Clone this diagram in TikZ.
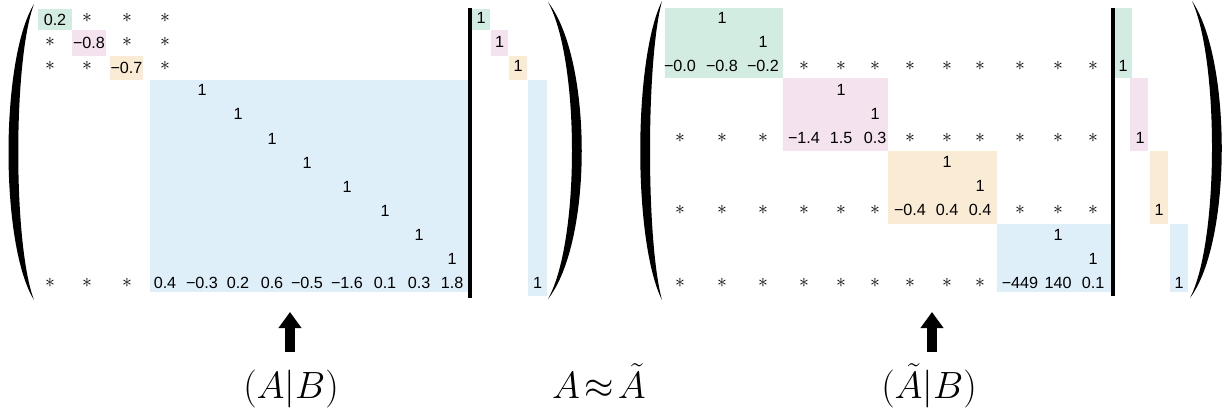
\RequirePackage{fix-cm}
\documentclass[tikz,border=0pt]{standalone}
\usepackage{fontspec}
\newfontfamily\numfont{Liberation Sans}
\usepackage{xcolor}
\usepackage{tikz}
\usetikzlibrary{arrows.meta}

\definecolor{blkgreen}{RGB}{211,236,226}
\definecolor{blkpink}{RGB}{244,226,238}
\definecolor{blkorange}{RGB}{250,235,212}
\definecolor{blkblue}{RGB}{222,239,249}

\begin{document}
\begin{tikzpicture}[
    x=0.025cm, y=-0.025cm,
    entry/.style={font=\numfont\fontsize{11.5}{13}\selectfont, inner sep=0pt},
    starry/.style={font=\fontsize{14}{16}\selectfont, inner sep=0pt},
    diagbox/.style={entry, minimum width=0.85cm},
    mathlab/.style={font=\fontsize{27}{32}\selectfont, inner xsep=0pt, inner ysep=0.44cm, text height=20pt, text depth=7pt, anchor=base},
    bigarrow/.style={line width=0.25cm, -{Triangle[length=0.4cm,width=0.55cm]}},
    bar/.style={line width=2.5pt}
]
\useasboundingbox (0,0) rectangle (1225,414);

% ---- left matrix (A|B) ----
\fill[blkblue] (150,80) rectangle (470,292);
\fill[blkgreen] (472,9) rectangle (490,30);
\fill[blkpink] (491,30) rectangle (508,56);
\fill[blkorange] (509,56) rectangle (527,80);
\fill[blkblue] (528,80) rectangle (547,296);

\node[diagbox, fill=blkgreen, minimum height=0.525cm] (L-1-1) at (55,19.5) {0.2};
\node[diagbox, fill=blkpink, minimum height=0.65cm] (L-2-2) at (89,43) {−0.8};
\node[diagbox, fill=blkorange, minimum width=0.825cm, minimum height=0.6cm] (L-3-3) at (126.5,68) {−0.7};
\foreach \r/\y in {1/18,2/42,3/66}
  \foreach \c/\x in {1/50,2/87,3/127,4/165}
    {\ifnum\r=\c\else \node[starry] (L-\r-\c) at (\x,\y) {$\ast$};\fi}
\foreach \c/\x in {1/50,2/87,3/127}
  \node[starry] (L-12-\c) at (\x,283) {$\ast$};

\foreach \r/\c/\x in {4/5/202,5/6/238,6/7/272,7/8/307,8/9/347,9/10/385,10/11/419,11/12/452} {
  \pgfmathsetmacro\y{18+(\r-1)*24.1}
  \node[entry] (L-\r-\c) at (\x,\y) {1};
}
\foreach \c/\x/\v in {4/165/0.4,5/202/−0.3,6/238/0.2,7/272/0.6,8/307/−0.5,9/347/−1.6,10/385/0.1,11/419/0.3,12/452/1.8}
  \node[entry] (L-12-\c) at (\x,283) {\v};

\node[entry] (LB-1) at (481,18) {1};
\node[entry] (LB-2) at (499.5,42) {1};
\node[entry] (LB-3) at (518,66) {1};
\node[entry] (LB-4) at (537.5,283) {1};

\draw[bar] (470,8) -- (470,298);
\fill (34,4) .. controls (0,60) and (0,245) .. (34,300)
      .. controls (13,245) and (13,60) .. (34,4) -- cycle;
\fill (548,2) .. controls (593,60) and (593,242) .. (548,299)
      .. controls (580,242) and (580,60) .. (548,2) -- cycle;

% ---- right matrix (A~|B) ----
\fill[blkgreen] (665,8) rectangle (783,78);
\fill[blkpink] (783,78) rectangle (888,151);
\fill[blkorange] (888,151) rectangle (997,224);
\fill[blkblue] (997,224) rectangle (1112,292);
\fill[blkgreen] (1115,8) rectangle (1132,78);
\fill[blkpink] (1130,78) rectangle (1148,151);
\fill[blkorange] (1150,151) rectangle (1168,224);
\fill[blkblue] (1170,224) rectangle (1188,292);

\foreach \r/\y/\first in {3/66/1,6/138/4,9/210/7,12/283/10}
  \foreach \c/\x in {1/680,2/722,3/763,4/804,5/841,6/875,7/910,8/947,9/980,10/1020,11/1058,12/1093} {
    \pgfmathtruncatemacro\inblk{and(\c>=\first,\c<=\first+2)}
    \ifnum\inblk=0 \node[starry] (R-\r-\c) at (\x,\y) {$\ast$};\fi
  }

\foreach \r/\y/\c/\x in {1/18/2/722,2/42/3/763,4/90/5/841,5/114/6/875,7/162/8/947,8/186/9/980,10/235/11/1058,11/259/12/1093}
  \node[entry] (R-\r-\c) at (\x,\y) {1};
\foreach \r/\y/\c/\x/\v in {3/66/1/680/−0.0,3/66/2/722/−0.8,3/66/3/763/−0.2,
    6/138/4/804/−1.4,6/138/5/841/1.5,6/138/6/875/0.3,
    9/210/7/910/−0.4,9/210/8/947/0.4,9/210/9/980/0.4,
    12/283/10/1020/−449,12/283/11/1058/140,12/283/12/1093/0.1}
  \node[entry] (R-\r-\c) at (\x,\y) {\v};

\node[entry] (RB-1) at (1123,66) {1};
\node[entry] (RB-2) at (1140,138) {1};
\node[entry] (RB-3) at (1159,210) {1};
\node[entry] (RB-4) at (1179,283) {1};

\draw[bar] (1113,8) -- (1113,296);
\fill (662,1) .. controls (633,60) and (633,242) .. (662,300)
      .. controls (646,242) and (646,60) .. (662,1) -- cycle;
\fill (1192,1) .. controls (1232,60) and (1232,242) .. (1190,298)
      .. controls (1219,242) and (1219,60) .. (1192,1) -- cycle;

% ---- labels ----
\node[mathlab] (labAB) at (291,398) {$(A|B)$};
\node[mathlab] (labapprox) at (599,398) {$A\mkern2mu{\approx}\mkern2mu\tilde A$};
\node[mathlab] (labtAB) at (929,398) {$(\tilde A|B)$};
\coordinate (tipL) at (290,312);
\coordinate (tipR) at (932,312);
\draw[bigarrow] (labAB.north -| tipL) -- (tipL);
\draw[bigarrow] (labtAB.north -| tipR) -- (tipR);
\end{tikzpicture}
\end{document}
